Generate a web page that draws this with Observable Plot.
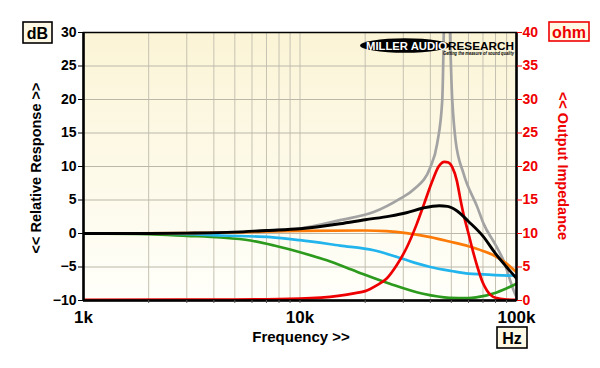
<!DOCTYPE html>
<html>
<head>
<meta charset="utf-8">
<script src="https://cdn.jsdelivr.net/npm/d3@7"></script>
<script src="https://cdn.jsdelivr.net/npm/@observablehq/plot@0.6"></script>
<style>
  html, body { margin: 0; padding: 0; background: #ffffff; }
  #chart { width: 600px; height: 368px; }
</style>
</head>
<body>
<div id="chart"></div>
<script>
// ---- Data ----
const yTicksDb = [-10, -5, 0, 5, 10, 15, 20, 25, 30];
const xLabelTicks = [1000, 10000, 100000];
const xMinorTicks = [2000, 3000, 4000, 5000, 6000, 7000, 8000, 9000, 10000,
                     20000, 30000, 40000, 50000, 60000, 70000, 80000, 90000];

const grayF  = [1000, 2000, 3000, 5000, 7000, 10000, 15300, 21900, 29000, 33600, 40000, 43000, 45400, 47300, 50500, 52300, 57000, 66000, 70600, 80000, 87000, 97000, 100000];
const grayDb = [0, 0, 0.05, 0.2, 0.45, 0.75, 2.0, 3.2, 5.2, 6.6, 9.9, 13.4, 19.9, 45, 19.9, 13.9, 8.9, 3.9, 1.4, -1.7, -4.0, -8.5, -9.5];

const blackF  = [1000, 2000, 3000, 5000, 7000, 10000, 15300, 20000, 26000, 31000, 37000, 44000, 48000, 53000, 60000, 70000, 80000, 90000, 100000];
const blackDb = [0, 0, 0.05, 0.2, 0.45, 0.7, 1.45, 2.05, 2.6, 3.1, 3.8, 4.15, 4.05, 3.4, 1.8, -0.4, -3.0, -5.0, -6.7];

const orangeF  = [1000, 3000, 5000, 10000, 20000, 25000, 31000, 40000, 49000, 60000, 70000, 80000, 90000, 100000];
const orangeDb = [0, 0.05, 0.15, 0.4, 0.45, 0.35, 0.05, -0.55, -1.2, -1.9, -2.6, -3.4, -4.5, -5.8];

const cyanF  = [1000, 2000, 3000, 4300, 7300, 10000, 15300, 21900, 30000, 35000, 40000, 50000, 60000, 70000, 80000, 100000];
const cyanDb = [0, 0, -0.1, -0.3, -0.55, -1.0, -1.8, -2.5, -3.8, -4.5, -5.0, -5.6, -6.0, -6.1, -6.2, -6.3];

const greenF  = [1000, 2000, 3000, 4300, 5900, 7600, 10000, 13300, 18300, 26000, 37000, 49000, 60000, 66000, 81000, 100000];
const greenDb = [0, -0.1, -0.35, -0.6, -1.05, -1.8, -2.8, -4.0, -5.7, -7.5, -9.0, -9.6, -9.65, -9.5, -8.8, -7.5];

const impF   = [1000, 5000, 10000, 15000, 18000, 20000, 22700, 25000, 28000, 31000, 34600, 37500, 40600, 43700, 46500, 48500, 50500, 53000, 55000, 57000, 60000, 63000, 66000, 70000, 73000, 80000, 90000, 100000];
const impOhm = [0.1, 0.15, 0.3, 0.7, 1.1, 1.4, 2.3, 3.2, 5.3, 7.8, 11.4, 14.5, 17.6, 20.0, 20.7, 20.6, 19.9, 17.9, 15.2, 12.8, 10.0, 7.3, 5.0, 2.6, 1.5, 0.4, 0.15, 0.1];

// ---- Build tables ----
const toRows = (fs, vs) => fs.map((f, i) => ({f, v: vs[i]}));
const gray = toRows(grayF, grayDb);
const black = toRows(blackF, blackDb);
const orange = toRows(orangeF, orangeDb);
const cyan = toRows(cyanF, cyanDb);
const green = toRows(greenF, greenDb);
const imp = toRows(impF, impOhm);

const FONT = "'Liberation Sans', Arial, Helvetica, sans-serif";
const lineOpts = (color) => ({x: "f", y: "v", stroke: color, strokeWidth: 2.7, curve: "monotone-x", clip: true});

const chart = Plot.plot({
  width: 600,
  height: 368,
  marginLeft: 83,
  marginRight: 84,
  marginTop: 32,
  marginBottom: 68,
  style: {fontFamily: FONT, fontWeight: "bold", background: "#ffffff", overflow: "visible"},
  x: {type: "log", domain: [1000, 100000]},
  y: {domain: [-10, 30]},
  marks: [
    Plot.frame({fill: "url(#bgGrad)", stroke: "none"}),
    Plot.gridX(xMinorTicks, {stroke: "#c6c2b2", strokeOpacity: 1, strokeWidth: 1}),
    Plot.gridY(yTicksDb, {stroke: "#bbb8aa", strokeOpacity: 1, strokeWidth: 1}),
    Plot.line(gray, lineOpts("#a3a3a3")),
    Plot.line(green, lineOpts("#2c9a1c")),
    Plot.line(cyan, lineOpts("#22b4ec")),
    Plot.line(orange, lineOpts("#fb7a08")),
    Plot.line(imp, {x: "f", y: d => d.v - 10, stroke: "#ee0000", strokeWidth: 2.7, curve: "monotone-x", clip: true}),
    Plot.line(black, {...lineOpts("#000000"), strokeWidth: 2.9}),
    Plot.frame({stroke: "#000000", strokeWidth: 1.5}),
    Plot.ruleX([1000, 100000], {stroke: "#000", strokeWidth: 2.5}),
    Plot.ruleY([-10], {stroke: "#000", strokeWidth: 2.5}),
    Plot.axisX({ticks: xMinorTicks, tickSize: 3, tickFormat: () => "", stroke: "#555", label: null}),
    Plot.axisX({ticks: xLabelTicks, tickSize: 0, tickPadding: 10, tickFormat: d => (d / 1000) + "k",
                fontSize: 17, fontWeight: "bold", fill: "#000", label: null}),
    Plot.axisY({ticks: yTicksDb, tickSize: 5, tickPadding: 2, fontSize: 14, fontWeight: "bold",
                stroke: "#000", fill: "#000", label: null}),
    Plot.axisY({anchor: "right", ticks: yTicksDb, tickSize: 5, tickPadding: 1, tickFormat: d => d + 10,
                fontSize: 14, fontWeight: "bold", stroke: "#ee0000", fill: "#ee0000", label: null})
  ]
});

document.getElementById("chart").appendChild(chart);

// ---- Decorations: background gradient, unit boxes, titles, logo ----
const svg = d3.select(chart);
const defs = svg.insert("defs", ":first-child");
const grad = defs.append("linearGradient").attr("id", "bgGrad")
  .attr("x1", 0).attr("y1", 0).attr("x2", 0).attr("y2", 1);
grad.append("stop").attr("offset", "0%").attr("stop-color", "#fbf4d6");
grad.append("stop").attr("offset", "100%").attr("stop-color", "#fffffa");

function unitBox(x, y, w, h, label, color) {
  svg.append("rect").attr("x", x).attr("y", y).attr("width", w).attr("height", h)
    .attr("fill", "#fdf9e4").attr("stroke", color).attr("stroke-width", 1.6);
  svg.append("text").attr("x", x + w / 2).attr("y", y + h / 2 + 6)
    .attr("text-anchor", "middle").attr("font-family", FONT).attr("font-weight", "bold")
    .attr("font-size", 16).attr("fill", color).text(label);
}
unitBox(23, 22, 29, 21, "dB", "#000");
unitBox(549, 22, 40, 19, "ohm", "#ee0000");
unitBox(497, 327, 30, 21, "Hz", "#000");

svg.append("text").attr("x", 301).attr("y", 342).attr("text-anchor", "middle")
  .attr("font-family", FONT).attr("font-weight", "bold").attr("font-size", 15)
  .attr("fill", "#000").text("Frequency >>");

svg.append("text").attr("transform", "translate(41,168) rotate(-90)").attr("text-anchor", "middle")
  .attr("font-family", FONT).attr("font-weight", "bold").attr("font-size", 14.5)
  .attr("fill", "#000").text("<< Relative Response >>");

svg.append("text").attr("transform", "translate(558,166) rotate(90)").attr("text-anchor", "middle")
  .attr("font-family", FONT).attr("font-weight", "bold").attr("font-size", 14.5)
  .attr("fill", "#ee0000").text("<< Output Impedance");

// logo
svg.append("ellipse").attr("cx", 405).attr("cy", 45.5).attr("rx", 45).attr("ry", 7.2).attr("fill", "#000");
svg.append("text").attr("x", 366).attr("y", 49.5).attr("text-anchor", "start")
  .attr("textLength", 81).attr("lengthAdjust", "spacingAndGlyphs")
  .attr("font-family", FONT).attr("font-weight", "bold").attr("font-size", 11).attr("fill", "#fff").text("MILLER AUDIO");
svg.append("text").attr("x", 448).attr("y", 49.5).attr("text-anchor", "start")
  .attr("textLength", 66).attr("lengthAdjust", "spacingAndGlyphs")
  .attr("font-family", FONT).attr("font-weight", "bold").attr("font-size", 11).attr("fill", "#000").text("RESEARCH");
svg.append("text").attr("x", 443).attr("y", 55).attr("text-anchor", "start")
  .attr("textLength", 71).attr("lengthAdjust", "spacingAndGlyphs")
  .attr("font-family", FONT).attr("font-weight", "bold").attr("font-style", "italic").attr("font-size", 5)
  .attr("fill", "#000").text("Getting the measure of sound quality");
</script>
</body>
</html>
